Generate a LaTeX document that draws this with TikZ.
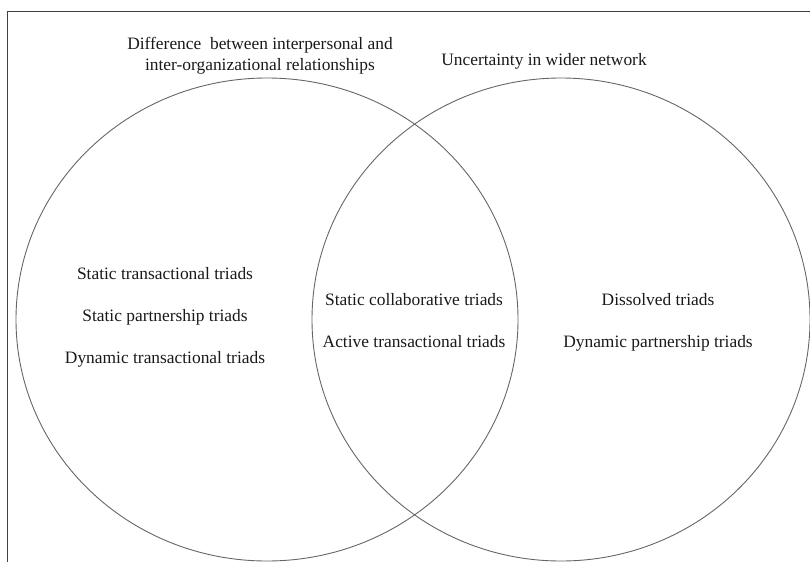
\documentclass[tikz,border=0pt]{standalone}
\usepackage{fontspec}
\setmainfont{Liberation Serif}
\begin{document}
\begin{tikzpicture}[x=1pt,y=-1pt,
  frameline/.style={draw=black!75,line width=1pt},
  setline/.style={draw=black!60,line width=0.9pt},
  lbl/.style={anchor=base,inner sep=0pt,align=center,font=\fontsize{17.4}{21}\selectfont,text=black!90},
]
\useasboundingbox (0,0) rectangle (810,562);
% outer frame (top and left edges)
\coordinate (ftr) at (810,11.7);
\coordinate (ftl) at (7.3,11.7);
\coordinate (fbl) at (7.3,562);
\draw[frameline] (ftr) -- (ftl) -- (fbl);
% the two overlapping sets
\draw[setline] (267,319.5) ellipse [x radius=251, y radius=241.5];
\draw[setline] (561,319.5) ellipse [x radius=249, y radius=241.5];
% set titles (base anchor sits on the last line)
\node[lbl] (titleA) at (260,70) {Difference\ \ between interpersonal and\\inter-organizational relationships};
\node[lbl] (titleB) at (544,65) {Uncertainty in wider network};
% left-only region
\node[lbl] (l1) at (165,279) {Static transactional triads};
\node[lbl] (l2) at (165,321) {Static partnership triads};
\node[lbl] (l3) at (165,363) {Dynamic transactional triads};
% overlap region
\node[lbl] (m1) at (414,305) {Static collaborative triads};
\node[lbl] (m2) at (414,347) {Active transactional triads};
% right-only region
\node[lbl] (r1) at (658,305) {Dissolved triads};
\node[lbl] (r2) at (658,347) {Dynamic partnership triads};
\end{tikzpicture}
\end{document}
